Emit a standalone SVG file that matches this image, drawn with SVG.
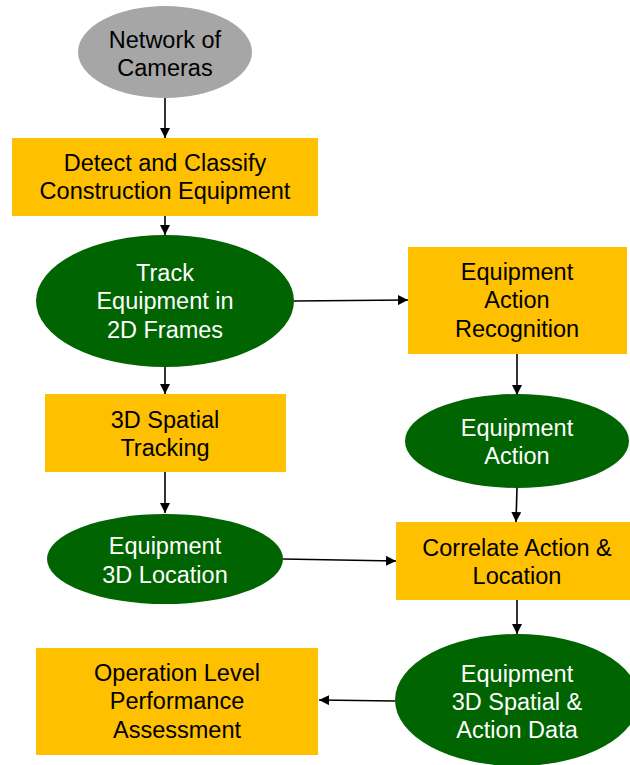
<svg xmlns="http://www.w3.org/2000/svg" width="630" height="765" viewBox="0 0 630 765">
  <defs>
    <marker id="arrow" viewBox="0 0 10 10" refX="10" refY="5" markerWidth="10" markerHeight="10" markerUnits="userSpaceOnUse" orient="auto">
      <path d="M0,0 L10,5 L0,10 z" fill="#000"/>
    </marker>
    <style>
      .box { fill: #FFC000; }
      .oval { fill: #006400; }
      .source { fill: #A6A6A6; }
      text { font-family: "Liberation Sans", Arial, sans-serif; font-size: 23.5px; text-anchor: middle; }
      .dark { fill: #000; }
      .light { fill: #fff; }
      .edge { stroke: #000; stroke-width: 1.6; fill: none; marker-end: url(#arrow); }
    </style>
  </defs>
  <rect width="630" height="765" fill="#fff"/>

  <g id="edges">
    <line class="edge" x1="165" y1="98" x2="165" y2="138"/>
    <line class="edge" x1="165" y1="216" x2="165" y2="235"/>
    <line class="edge" x1="294" y1="301" x2="408" y2="300"/>
    <line class="edge" x1="165" y1="367" x2="165" y2="394"/>
    <line class="edge" x1="517" y1="354" x2="517" y2="395"/>
    <line class="edge" x1="165" y1="472" x2="165" y2="513"/>
    <line class="edge" x1="517" y1="488" x2="516" y2="522"/>
    <line class="edge" x1="283" y1="559" x2="396" y2="561"/>
    <line class="edge" x1="517" y1="600" x2="517" y2="634"/>
    <line class="edge" x1="395" y1="701" x2="319" y2="700"/>
  </g>

  <g id="cameras">
    <ellipse class="source" cx="165" cy="52" rx="87" ry="46"/>
    <text class="dark" x="165" y="48">Network of</text>
    <text class="dark" x="165" y="76">Cameras</text>
  </g>

  <g id="detect">
    <rect class="box" x="12" y="138" width="306" height="78"/>
    <text class="dark" x="165" y="171">Detect and Classify</text>
    <text class="dark" x="165" y="199">Construction Equipment</text>
  </g>

  <g id="track2d">
    <ellipse class="oval" cx="165" cy="301" rx="129" ry="66"/>
    <text class="light" x="165" y="281">Track</text>
    <text class="light" x="165" y="309">Equipment in</text>
    <text class="light" x="165" y="338">2D Frames</text>
  </g>

  <g id="action-recognition">
    <rect class="box" x="408" y="247" width="219" height="107"/>
    <text class="dark" x="517" y="280">Equipment</text>
    <text class="dark" x="517" y="308">Action</text>
    <text class="dark" x="517" y="337">Recognition</text>
  </g>

  <g id="spatial-tracking">
    <rect class="box" x="45" y="394" width="241" height="78"/>
    <text class="dark" x="165" y="428">3D Spatial</text>
    <text class="dark" x="165" y="456">Tracking</text>
  </g>

  <g id="equipment-action">
    <ellipse class="oval" cx="517" cy="441" rx="112" ry="47"/>
    <text class="light" x="517" y="436">Equipment</text>
    <text class="light" x="517" y="464">Action</text>
  </g>

  <g id="location">
    <ellipse class="oval" cx="165" cy="559" rx="118" ry="45"/>
    <text class="light" x="165" y="554">Equipment</text>
    <text class="light" x="165" y="583">3D Location</text>
  </g>

  <g id="correlate">
    <rect class="box" x="396" y="522" width="234" height="78"/>
    <text class="dark" x="517" y="556">Correlate Action &amp;</text>
    <text class="dark" x="517" y="584">Location</text>
  </g>

  <g id="spatial-action-data">
    <ellipse class="oval" cx="517" cy="700" rx="122" ry="66"/>
    <text class="light" x="517" y="682">Equipment</text>
    <text class="light" x="517" y="710">3D Spatial &amp;</text>
    <text class="light" x="517" y="738">Action Data</text>
  </g>

  <g id="assessment">
    <rect class="box" x="36" y="648" width="282" height="107"/>
    <text class="dark" x="177" y="681">Operation Level</text>
    <text class="dark" x="177" y="709">Performance</text>
    <text class="dark" x="177" y="738">Assessment</text>
  </g>
</svg>
